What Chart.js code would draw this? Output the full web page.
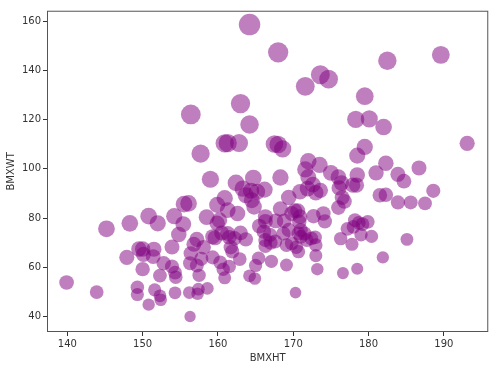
<!DOCTYPE html>
<html>
<head>
<meta charset="utf-8">
<script src="https://cdn.jsdelivr.net/npm/chart.js@4/dist/chart.umd.min.js"></script>
<style>
  body { margin: 0; background: #fff; }
  #wrap { width: 499px; height: 368px; }
</style>
</head>
<body>
<div id="wrap"><canvas id="myChart" width="499" height="368"></canvas></div>
<script>
// height (BMXHT) and weight (BMXWT)
var heights = [164.2, 168.0, 182.5, 189.6, 173.6, 174.7, 171.6, 179.5, 163.0, 156.4,
  164.2, 178.3, 180.1, 182.0, 193.1, 160.9, 161.3, 162.8, 167.5, 168.0,
  168.6, 179.5, 157.7, 178.5, 172.0, 173.5, 186.7, 182.3, 181.0, 178.5,
  183.9, 184.7, 171.6, 172.0, 175.0, 176.0, 176.4, 177.9, 178.4, 176.1,
  172.6, 171.9, 170.9, 173.0, 173.6, 188.6, 181.5, 182.3, 183.9, 185.6,
  187.5, 176.5, 176.8, 176.0, 159.0, 164.7, 168.3, 162.4, 163.3, 164.4,
  165.2, 166.2, 163.7, 164.5, 164.8, 169.4, 160.9, 159.9, 161.3, 162.6,
  158.5, 160.2, 159.9, 156.1, 155.5, 154.2, 155.4, 154.8, 150.8, 152.0,
  148.3, 145.2, 147.9, 139.9, 143.9, 149.5, 150.0, 150.1, 151.5, 151.4,
  150.0, 149.3, 149.3, 150.8, 151.6, 152.3, 152.4, 152.3, 152.8, 153.9,
  153.9, 154.3, 154.4, 154.3, 156.3, 156.2, 157.3, 157.4, 158.6, 156.3,
  156.4, 156.8, 157.2, 157.2, 157.5, 158.1, 159.3, 159.3, 160.3, 160.7,
  160.9, 161.5, 161.5, 161.7, 161.3, 162.2, 162.9, 163.7, 164.2, 164.9,
  165.0, 165.4, 167.1, 169.1, 170.3, 173.2, 173.0, 173.0, 172.4, 172.9,
  176.6, 178.5, 181.9, 185.1, 180.4, 179.0, 177.8, 176.3, 177.2, 178.2,
  178.7, 179.9, 178.0, 179.2, 174.2, 174.0, 172.7, 170.6, 170.2, 169.8,
  170.9, 170.8, 168.3, 168.8, 167.7, 166.3, 166.3, 165.5, 166.1, 166.9,
  166.3, 166.3, 167.6, 168.7, 169.4, 169.8, 170.4, 170.7, 169.1, 170.7,
  171.0, 171.5, 171.8, 171.0, 159.6, 160.5, 161.9, 163.0, 157.8, 167.0];
var weights = [158.6, 147.3, 143.9, 146.3, 138.2, 136.4, 133.5, 129.5, 126.5, 122.1,
  118.0, 120.1, 120.3, 117.0, 110.4, 110.4, 110.5, 110.5, 110.1, 109.9,
  108.1, 108.9, 106.2, 105.4, 103.1, 101.6, 100.4, 102.3, 98.4, 97.5,
  97.8, 95.0, 99.8, 96.7, 98.4, 96.7, 94.3, 93.4, 93.4, 92.3,
  93.6, 92.0, 90.7, 90.3, 91.3, 91.1, 89.3, 89.5, 86.4, 86.4,
  86.0, 88.4, 86.8, 84.3, 95.8, 96.3, 96.5, 94.3, 92.0, 91.1,
  90.7, 91.6, 89.3, 87.3, 84.6, 88.4, 88.1, 85.4, 83.3, 81.9,
  80.4, 79.2, 77.9, 86.0, 85.7, 80.8, 77.6, 73.4, 80.8, 77.9,
  77.9, 75.7, 64.1, 53.9, 50.0, 67.5, 67.5, 65.3, 67.4, 64.4,
  59.3, 52.0, 49.0, 44.9, 50.9, 48.5, 46.9, 56.7, 61.7, 68.3,
  60.4, 57.9, 56.0, 49.7, 40.1, 49.8, 49.3, 51.2, 51.5, 61.7,
  65.7, 69.4, 71.4, 60.8, 56.8, 68.2, 72.5, 64.1, 62.1, 59.3,
  55.8, 60.4, 72.2, 68.2, 73.8, 71.8, 63.4, 71.4, 56.6, 55.5,
  60.8, 63.7, 62.5, 61.0, 49.8, 59.3, 64.8, 69.1, 71.8, 72.2,
  57.7, 59.5, 64.1, 71.4, 72.6, 73.3, 69.4, 71.7, 75.7, 79.2,
  78.1, 78.5, 76.5, 77.6, 78.7, 81.9, 80.8, 83.0, 83.0, 81.9,
  80.6, 78.5, 83.8, 78.9, 78.9, 80.6, 78.7, 76.8, 74.5, 73.2,
  71.1, 68.7, 70.5, 73.8, 75.2, 69.8, 68.2, 66.4, 69.1, 73.8,
  75.2, 73.8, 71.1, 72.4, 72.0, 74.0, 66.5, 74.0, 63.5, 70.0];
var xTicks = [140, 150, 160, 170, 180, 190];
var yTicks = [40, 60, 80, 100, 120, 140, 160];

var points = [];
for (var i = 0; i < heights.length; i++) {
  points.push({ x: heights[i], y: weights[i] });
}

// marker size follows weight / height^2
function bubbleSize(ctx) {
  var p = ctx.raw;
  if (!p) return 5;
  var m = p.x / 100;
  return 1.4 * Math.sqrt(p.y / (m * m));
}

// draws the four spines round the plot
var frame = {
  id: 'frame',
  afterDraw: function(chart) {
    var a = chart.chartArea, c = chart.ctx;
    c.save();
    c.strokeStyle = '#555';
    c.lineWidth = 1;
    c.strokeRect(a.left + 0.5, a.top + 0.5, a.right - a.left - 1, a.bottom - a.top - 1);
    c.restore();
  }
};

Chart.defaults.font.family = 'DejaVu Sans';
Chart.defaults.font.size = 10;
Chart.defaults.color = '#333';

new Chart('myChart', {
  type: 'scatter',
  data: {
    datasets: [{
      data: points,
      backgroundColor: 'rgba(128, 0, 128, 0.5)',
      borderWidth: 0,
      pointRadius: bubbleSize,
      pointHoverRadius: bubbleSize
    }]
  },
  options: {
    responsive: false,
    animation: false,
    layout: { padding: { top: 10, right: 9, left: 0, bottom: 0 } },
    plugins: { legend: { display: false }, tooltip: { enabled: false } },
    scales: {
      x: {
        min: 137.3, max: 195.9,
        afterBuildTicks: function(s) { s.ticks = xTicks.map(function(v) { return { value: v }; }); },
        afterFit: function(s) { s.height = 36; },
        grid: { drawOnChartArea: false, tickLength: 4, color: '#333' },
        border: { display: false },
        ticks: { padding: 2, maxRotation: 0 },
        title: { display: true, text: 'BMXHT', padding: { top: 1, bottom: 4 } }
      },
      y: {
        min: 33.8, max: 164.2,
        afterBuildTicks: function(s) { s.ticks = yTicks.map(function(v) { return { value: v }; }); },
        afterFit: function(s) { s.width = 47; },
        grid: { drawOnChartArea: false, tickLength: 4, color: '#333' },
        border: { display: false },
        ticks: { padding: 2 },
        title: { display: true, text: 'BMXWT', padding: { top: 5, bottom: 2 } }
      }
    }
  },
  plugins: [frame]
});
</script>
</body>
</html>
